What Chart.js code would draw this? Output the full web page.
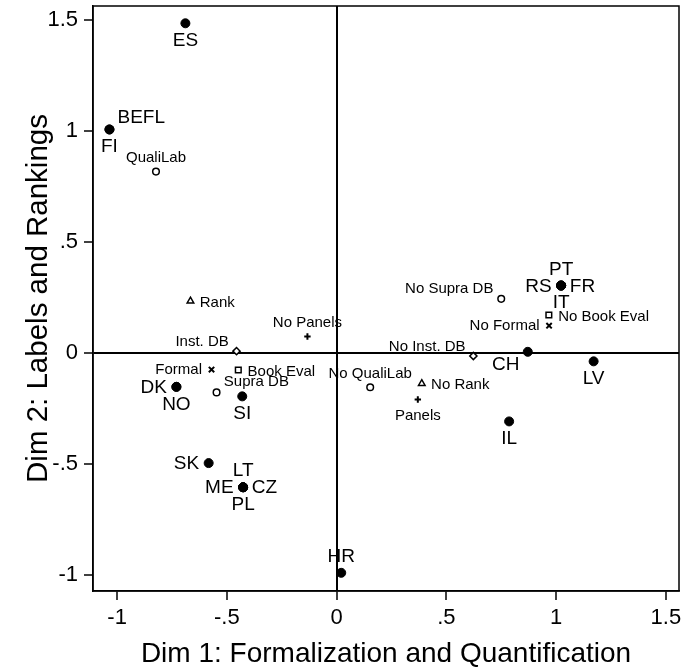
<!DOCTYPE html>
<html>
<head>
<meta charset="utf-8">
<script src="https://cdn.jsdelivr.net/npm/chart.js@4/dist/chart.umd.min.js"></script>
<style>
  html, body { margin: 0; padding: 0; background: #fff; }
  #wrap { width: 685px; height: 668px; position: relative; }
</style>
</head>
<body>
<div id="wrap"><canvas id="mcaPlot"></canvas></div>
<script>
// Countries (filled dots); shared points repeat the same coordinates
const countries = ['ES', 'BEFL', 'FI', 'DK', 'NO', 'SI', 'SK', 'LT', 'ME', 'CZ', 'PL', 'HR', 'PT', 'RS', 'FR', 'IT', 'CH', 'LV', 'IL'];
const countryX = [-0.689, -1.035, -1.035, -0.730, -0.730, -0.430, -0.583, -0.426, -0.426, -0.426, -0.426, 0.021, 1.023, 1.023, 1.023, 1.023, 0.871, 1.171, 0.786];
const countryY = [1.487, 1.008, 1.008, -0.153, -0.153, -0.196, -0.497, -0.606, -0.606, -0.606, -0.606, -0.992, 0.304, 0.304, 0.304, 0.304, 0.005, -0.038, -0.309];

// Variable categories (hollow markers)
const variables = ['QualiLab', 'No QualiLab', 'Rank', 'No Rank', 'Panels', 'No Panels', 'Inst. DB', 'No Inst. DB', 'Formal', 'No Formal', 'Book Eval', 'No Book Eval', 'Supra DB', 'No Supra DB'];
const variableX = [-0.823, 0.153, -0.666, 0.388, 0.370, -0.133, -0.456, 0.623, -0.570, 0.968, -0.448, 0.967, -0.547, 0.750];
const variableY = [0.818, -0.155, 0.234, -0.138, -0.210, 0.074, 0.008, -0.014, -0.075, 0.123, -0.077, 0.171, -0.178, 0.244];

const xTicks = [-1, -0.5, 0, 0.5, 1, 1.5];
const yTicks = [-1, -0.5, 0, 0.5, 1, 1.5];

// marker styling and label clock positions
const variableMarker = ['circle', 'circle', 'triangle', 'triangle', 'cross', 'cross', 'rectRot', 'rectRot', 'crossRot', 'crossRot', 'rect', 'rect', 'circle', 'circle'];
const markerRadius = { circle: 3.3, triangle: 3.8, cross: 3.2, rectRot: 3.6, crossRot: 3.8, rect: 4.0 };
const countryPos = [6, 1, 6, 9, 6, 6, 9, 12, 9, 3, 6, 12, 12, 9, 3, 6, 7, 6, 6];
const variablePos = [12, 12, 3, 3, 6, 12, 11, 11, 9, 9, 3, 3, 1, 11];

const FONT = 'Liberation Sans, Arial, Helvetica, sans-serif';

const countryOffsets = {
  12: { dx: 0, dy: -16, align: 'center' },
  6: { dx: 0, dy: 17.5, align: 'center' },
  9: { dx: -9.5, dy: 1, align: 'right' },
  3: { dx: 8.7, dy: 1, align: 'left' },
  1: { dx: 8, dy: -12, align: 'left' },
  7: { dx: -8.3, dy: 13.4, align: 'right' }
};
const variableOffsets = {
  12: { dx: 0, dy: -13.5, align: 'center' },
  6: { dx: 0, dy: 16.2, align: 'center' },
  3: { dx: 9.3, dy: 1.5, align: 'left' },
  9: { dx: -9.5, dy: 0.5, align: 'right' },
  11: { dx: -7.8, dy: -9.6, align: 'right' },
  1: { dx: 7.3, dy: -10.5, align: 'left' }
};

const toPoints = (xs, ys) => xs.map((x, i) => ({ x: x, y: ys[i] }));
const fmtTick = v => String(v).replace(/^(-?)0\./, '$1.');

// draws point labels next to markers
const pointLabels = {
  id: 'pointLabels',
  afterDatasetsDraw(chart) {
    const ctx = chart.ctx;
    chart.data.datasets.forEach((ds, i) => {
      const meta = chart.getDatasetMeta(i);
      ctx.save();
      ctx.font = ds.labelSize + 'px ' + FONT;
      ctx.fillStyle = '#000';
      ctx.textBaseline = 'middle';
      meta.data.forEach((pt, j) => {
        const off = ds.labelOffsets[ds.labelPos[j]];
        ctx.textAlign = off.align;
        ctx.fillText(ds.pointNames[j], pt.x + off.dx, pt.y + off.dy);
      });
      ctx.restore();
    });
  }
};

// full box around plot region
const plotFrame = {
  id: 'plotFrame',
  afterDraw(chart) {
    const a = chart.chartArea;
    const ctx = chart.ctx;
    ctx.save();
    ctx.strokeStyle = '#000';
    ctx.lineWidth = 1.5;
    ctx.strokeRect(a.left, a.top, a.right - a.left, a.bottom - a.top);
    ctx.restore();
  }
};

const zeroGrid = {
  drawOnChartArea: true,
  color: c => (c.tick && c.tick.value === 0) ? '#000' : 'rgba(0,0,0,0)',
  lineWidth: 2,
  drawTicks: true,
  tickLength: 9,
  tickColor: '#000',
  tickWidth: 1.5
};

// fixed axis box sizes, no extra room for overhanging tick labels
const fixBox = size => s => {
  if (s.isHorizontal()) s.height = size; else s.width = size;
  s.paddingTop = 0;
  s.paddingBottom = 0;
  s.paddingLeft = 0;
  s.paddingRight = 0;
};

new Chart(document.getElementById('mcaPlot'), {
  type: 'scatter',
  data: {
    datasets: [
      {
        data: toPoints(variableX, variableY),
        pointNames: variables,
        labelPos: variablePos,
        labelOffsets: variableOffsets,
        labelSize: 15,
        pointStyle: variableMarker,
        pointRadius: variableMarker.map(m => markerRadius[m]),
        backgroundColor: '#fff',
        borderColor: '#000',
        borderWidth: variableMarker.map(m => (m === 'cross' || m === 'crossRot') ? 2 : 1.5)
      },
      {
        data: toPoints(countryX, countryY),
        pointNames: countries,
        labelPos: countryPos,
        labelOffsets: countryOffsets,
        labelSize: 19,
        pointStyle: 'circle',
        pointRadius: 4.5,
        backgroundColor: '#000',
        borderColor: '#000',
        borderWidth: 1
      }
    ]
  },
  options: {
    responsive: true,
    maintainAspectRatio: false,
    animation: false,
    events: [],
    layout: { padding: { top: 3, right: 4, left: 0, bottom: 0 } },
    plugins: {
      legend: { display: false },
      tooltip: { enabled: false }
    },
    scales: {
      x: {
        type: 'linear',
        min: -1.11,
        max: 1.56,
        afterBuildTicks: s => { s.ticks = xTicks.map(v => ({ value: v })); },
        afterFit: fixBox(77),
        grid: zeroGrid,
        border: { display: true, color: '#000', width: 1.5 },
        ticks: {
          color: '#000',
          font: { family: FONT, size: 22, lineHeight: 1 },
          padding: 7,
          maxRotation: 0,
          callback: v => fmtTick(v)
        },
        title: {
          display: true,
          text: 'Dim 1: Formalization and Quantification',
          color: '#000',
          font: { family: FONT, size: 28, lineHeight: 1 },
          padding: 0
        }
      },
      y: {
        type: 'linear',
        min: -1.074,
        max: 1.565,
        afterBuildTicks: s => { s.ticks = yTicks.map(v => ({ value: v })); },
        afterFit: fixBox(93),
        grid: zeroGrid,
        border: { display: true, color: '#000', width: 1.5 },
        ticks: {
          color: '#000',
          font: { family: FONT, size: 22, lineHeight: 1 },
          padding: 6,
          callback: v => fmtTick(v)
        },
        title: {
          display: true,
          text: 'Dim 2: Labels and Rankings',
          color: '#000',
          font: { family: FONT, size: 29.5, lineHeight: 1 },
          padding: { top: 24, bottom: 0 }
        }
      }
    }
  },
  plugins: [pointLabels, plotFrame]
});
</script>
</body>
</html>
